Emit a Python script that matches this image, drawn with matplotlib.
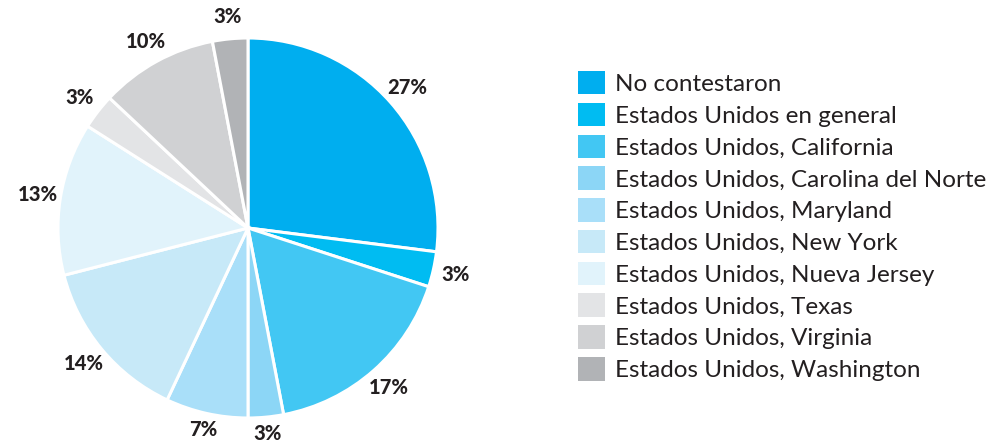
import matplotlib
matplotlib.use("Agg")
import matplotlib.pyplot as plt
from matplotlib.patches import Patch

categories = [
    "No contestaron",
    "Estados Unidos en general",
    "Estados Unidos, California",
    "Estados Unidos, Carolina del Norte",
    "Estados Unidos, Maryland",
    "Estados Unidos, New York",
    "Estados Unidos, Nueva Jersey",
    "Estados Unidos, Texas",
    "Estados Unidos, Virginia",
    "Estados Unidos, Washington",
]
values = [27, 3, 17, 3, 7, 14, 13, 3, 10, 3]
colors = ["#00AEEF", "#00BCF2", "#42C7F3", "#8CD6F6", "#A9DFF9",
          "#C7E9F8", "#E1F3FB", "#E3E4E6", "#D0D1D3", "#B1B3B6"]

W, H = 988, 447
fig = plt.figure(figsize=(W / 100, H / 100), dpi=100)
plt.rcParams['font.family'] = ['Lato', 'DejaVu Sans']

R = 190
cx, cy = 248, 228
lim = 1.3
side = 2 * R * lim
ax = fig.add_axes([(cx - side / 2) / W, (H - cy - side / 2) / H, side / W, side / H])
pctdist = 1.12
wedges, texts, autotexts = ax.pie(
    values, colors=colors, startangle=90, counterclock=False,
    autopct=lambda p: f"{p:.0f}%", pctdistance=pctdist,
    wedgeprops=dict(edgecolor="white", linewidth=2.2),
    textprops=dict(fontsize=14.5, fontweight="black", color="#231F20"),
)
# keep the bottom labels inside the picture
for t in autotexts:
    x, y = t.get_position()
    if y < -1.0:
        f = 1.085 / pctdist
        t.set_position((x * f, y * f))
ax.set_xlim(-lim, lim)
ax.set_ylim(-lim, lim)
ax.set_aspect("equal")
ax.axis("off")

handles = [Patch(facecolor=c, edgecolor="none") for c in colors]
fig.legend(handles, categories, loc="upper left",
           bbox_to_anchor=(578 / W, 1 - 71 / H), frameon=False,
           fontsize=17.5, handlelength=1.11, handleheight=1.11,
           handletextpad=0.4, labelspacing=0.32, borderpad=0,
           borderaxespad=0, labelcolor="#231F20")

fig.savefig("out.png", dpi=100)
